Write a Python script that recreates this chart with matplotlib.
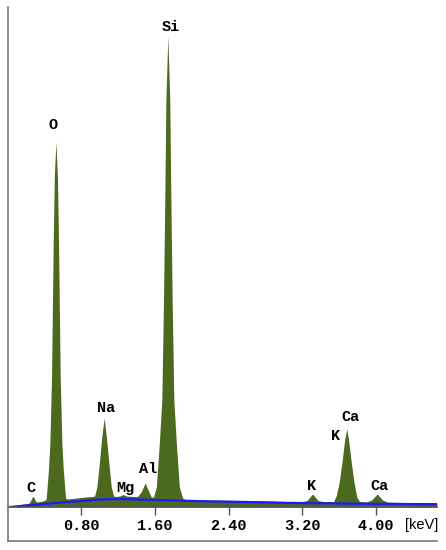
import matplotlib.pyplot as plt
from matplotlib.lines import Line2D

# spectrum (energy in keV, counts in arbitrary units)
energy = [0.00, 0.05, 0.15, 0.22, 0.24, 0.276, 0.31, 0.36, 0.40,
          0.42, 0.445, 0.46, 0.478, 0.487, 0.496, 0.508, 0.525, 0.542, 0.554,
          0.563, 0.572, 0.590, 0.605, 0.63,
          0.65, 0.75, 0.85, 0.92,
          0.945, 0.97, 0.998, 1.023, 1.049, 1.073, 1.099, 1.126, 1.152,
          1.17, 1.22, 1.254, 1.29, 1.36,
          1.41, 1.45, 1.494, 1.535, 1.56,
          1.585, 1.615, 1.645, 1.675, 1.693, 1.707, 1.719, 1.74, 1.761, 1.773,
          1.787, 1.805, 1.835, 1.865, 1.90,
          1.93, 2.0, 2.2, 2.5, 2.8, 3.0, 3.2,
          3.25, 3.31, 3.37, 3.42,
          3.54, 3.57, 3.60, 3.63, 3.66, 3.682, 3.70, 3.73, 3.76, 3.79, 3.82,
          3.90, 3.95, 4.013, 4.07, 4.12,
          4.3, 4.66]
counts = [0, 0.5, 2.5, 3.5, 4.5, 11, 5, 5.5, 6.5,
          8, 38, 64, 130, 197, 264, 330, 365, 330, 264,
          197, 130, 64, 38, 9,
          8, 9, 10, 10.5,
          11, 20, 45, 70, 89, 70, 45, 20, 11,
          10.5, 11, 12.5, 11, 10.5,
          10.5, 15, 24, 15, 10,
          10, 20, 60, 107, 207, 307, 407, 471, 407, 307,
          207, 107, 60, 20, 9,
          7.5, 7, 7, 6.5, 6, 5.5, 5.5,
          6.5, 13, 6.5, 5.5,
          5.5, 12, 25, 45, 68, 78, 68, 45, 25, 10, 5.5,
          5, 7, 13, 7, 5,
          4.5, 4]

# fitted background (blue line)
bg_energy = [0.03, 0.2, 0.4, 0.6, 0.8, 1.0, 1.2, 1.4, 1.6, 1.9, 2.2,
             2.6, 3.0, 3.4, 3.8, 4.2, 4.66]
bg_counts = [0, 1.5, 3, 4.5, 6, 7.5, 8, 7.5, 7, 6.3, 5.6,
             5, 4.2, 3.7, 3.3, 3, 2.8]

# element labels
labels = ['C', 'O', 'Na', 'Mg', 'Al', 'Si', 'K', 'K', 'Ca', 'Ca']
label_x = [0.258, 0.496, 1.071, 1.277, 1.526, 1.776, 3.30, 3.555, 3.717, 4.032]
label_y = [19, 382, 99, 19, 38, 480, 20.5, 71, 90, 21]

ticks = [0.80, 1.60, 2.40, 3.20, 4.00]

W, H = 446, 550
fig = plt.figure(figsize=(W / 100, H / 100), dpi=100)
ax = fig.add_axes([7.5 / W, 43 / H, 429.5 / W, 500 / H])

ax.fill_between(energy, counts, color='#4b6a1e', lw=0)
ax.plot(bg_energy, bg_counts, color='#1a1aff', lw=1.6)

mono = dict(family='Liberation Mono', weight='bold', size=11)
for name, x, y in zip(labels, label_x, label_y):
    ax.text(x, y, name, ha='center', va='center', **mono)

ax.set_xlim(0, 4.661)
ax.set_ylim(0, 500)
ax.set_yticks([])
ax.set_xticks(ticks)
ax.set_xticklabels(['%.2f' % t for t in ticks], fontdict=mono)
ax.tick_params(axis='x', direction='out', length=6, width=1, color='#555555', pad=3)
for s in ['top', 'right', 'left']:
    ax.spines[s].set_visible(False)
ax.spines['bottom'].set_color('#555555')
ax.spines['bottom'].set_linewidth(1.2)

ax.text(4.314, -18, '[keV]', ha='left', va='center', family='Liberation Sans',
        size=10.5, clip_on=False)

# outer frame, left and bottom
fig.add_artist(Line2D([8 / W, 8 / W], [9 / H, 543 / H], color='#777777', lw=1.2))
fig.add_artist(Line2D([7.5 / W, 437 / W], [9 / H, 9 / H], color='#777777', lw=1.2))

fig.savefig('out.png', dpi=100)
